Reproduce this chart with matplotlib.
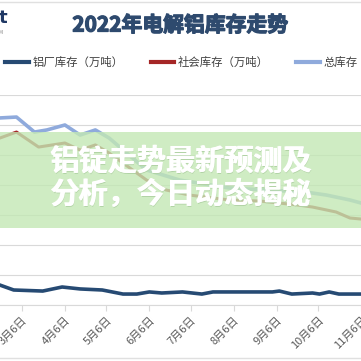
import pandas as pd
import matplotlib
matplotlib.use("Agg")
import matplotlib.pyplot as plt
import matplotlib.patheffects as pe
from matplotlib.patches import Rectangle
from matplotlib.lines import Line2D
from matplotlib.transforms import offset_copy

plt.rcParams['font.family'] = ['Noto Sans CJK SC', 'DejaVu Sans']

# dane (万吨)
daty_lc = ['2022-02-18', '2022-02-28', '2022-03-21', '2022-04-04', '2022-04-17', '2022-05-03',
           '2022-05-18', '2022-05-28', '2022-06-06', '2022-06-15', '2022-06-30', '2022-07-14',
           '2022-07-22', '2022-09-03', '2022-09-08', '2022-09-17', '2022-10-02', '2022-10-07',
           '2022-10-14', '2022-10-21', '2022-11-06']
lc_kc = [13.3, 10.0, 9.3, 12.0, 10.7, 10.0, 7.3, 7.3, 8.7, 8.0, 8.7, 7.3,
         8.7, 8.7, 9.3, 7.3, 8.0, 7.3, 8.7, 7.3, 7.3]

daty_sh = ['2022-02-18', '2022-03-02', '2022-03-18', '2022-04-06', '2022-04-17', '2022-04-28',
           '2022-05-08', '2022-06-04', '2022-06-18', '2022-07-05', '2022-08-03', '2022-08-25',
           '2022-09-21', '2022-10-02', '2022-10-19', '2022-10-29', '2022-11-06']
sh_kc = [111.3, 115.3, 105.3, 108.0, 103.3, 106.7, 101.3, 83.3, 76.7, 73.3, 70.0, 69.3,
         66.7, 65.3, 62.0, 58.0, 57.3]

daty_z = ['2022-02-18', '2022-03-02', '2022-03-15', '2022-03-24', '2022-04-06', '2022-04-17',
          '2022-04-28', '2022-05-08', '2022-06-04', '2022-06-28', '2022-08-03', '2022-09-27',
          '2022-10-12', '2022-10-29', '2022-11-06']
z_kc = [124.7, 125.3, 115.3, 116.7, 120.0, 113.3, 116.7, 111.3, 90.0, 83.3, 78.0, 75.3,
        73.3, 70.0, 68.0]

ticki = ['2022-03-06', '2022-04-06', '2022-05-06', '2022-06-06', '2022-07-06',
         '2022-08-06', '2022-09-06', '2022-10-06', '2022-11-06']
etykiety = ['3月6日', '4月6日', '5月6日', '6月6日', '7月6日', '8月6日', '9月6日', '10月6日', '11月6日']
baner = ['铝锭走势最新预测及', '分析，今日动态揭秘']

W = H = 361
fig = plt.figure(figsize=(3.61, 3.61), dpi=100)
ax = fig.add_axes([0, 1 - 305 / H, 1, 210 / H])

ax.plot(pd.to_datetime(daty_z), z_kc, color='#8faadc', lw=2.6, label='总库存（万吨）')
ax.plot(pd.to_datetime(daty_sh), sh_kc, color='#a52626', lw=2.2, label='社会库存（万吨）')
ax.plot(pd.to_datetime(daty_lc), lc_kc, color='#264a73', lw=2.6, label='铝厂库存（万吨）')

start = pd.Timestamp('2022-03-06') - pd.Timedelta(days=15.9)
ax.set_xlim(start, pd.Timestamp('2022-11-06'))
ax.set_ylim(0, 140)
ax.set_yticks(range(0, 141, 20))
ax.yaxis.grid(True, color='#d9d9d9', lw=0.8)
ax.tick_params(axis='y', left=False, labelleft=False)
for s in ['left', 'right', 'top']:
    ax.spines[s].set_visible(False)
ax.spines['bottom'].set_color('#d9d9d9')
ax.set_xticks(pd.to_datetime(ticki))
ax.set_xticklabels(etykiety, rotation=45, ha='right', rotation_mode='anchor',
                   fontsize=8, color='#595959')
ax.tick_params(axis='x', length=4, color='#d9d9d9', pad=3)

# tytuł (pogrubienie przez obrys)
fig.text(0.5, 1 - 25 / H, '2022年电解铝库存走势', ha='center', va='center',
         fontsize=15, fontweight='bold', color='#2e4a6e',
         path_effects=[pe.withStroke(linewidth=0.9, foreground='#2e4a6e')])
fig.text(-0.003, 1 - 18 / H, 't', ha='left', va='center', fontsize=13,
         fontweight='bold', color='#1f3864', family='DejaVu Sans')
fig.text(-0.003, 1 - 32 / H, 'M', ha='left', va='center', fontsize=3.5, color='#808080')
fig.add_artist(Line2D([0, 1], [1 - 1.5 / H, 1 - 1.5 / H], color='#e0e0e0', lw=1))
fig.add_artist(Line2D([0, 1], [1 - 358 / H, 1 - 358 / H], color='#e0e0e0', lw=1))

# legenda
h, l = ax.get_legend_handles_labels()
order = [2, 1, 0]
leg = fig.legend([h[i] for i in order], [l[i] for i in order], loc='center', ncol=3,
                 bbox_to_anchor=(204 / W, 1 - 62 / H), frameon=False, fontsize=8.2,
                 handlelength=2.1, handletextpad=0.3, columnspacing=2.4, labelcolor='#404040')
for ln in leg.get_lines():
    ln.set_linewidth(3)

# zielony baner
fig.add_artist(Rectangle((0, 1 - 228 / H), 1, 96 / H, transform=fig.transFigure,
                         facecolor='#c3e8b4', alpha=0.8, edgecolor='none', zorder=5))
for i, tekst in enumerate(baner):
    yy = 1 - (161 + 33 * i) / H
    # delikatny cień, potem biały tekst z małym przesunięciem (sztuczne pogrubienie)
    for dx, dy, kol, z in [(0.7, -0.7, '#b2d3a6', 6), (0, 0, 'white', 7), (0.5, 0, 'white', 7)]:
        tr = offset_copy(fig.transFigure, fig=fig, x=dx, y=dy, units='points')
        fig.text(180.5 / W, yy, tekst, ha='center', va='center', fontsize=21,
                 fontweight='heavy', color=kol, zorder=z, transform=tr)

fig.savefig('out.png', dpi=100)
